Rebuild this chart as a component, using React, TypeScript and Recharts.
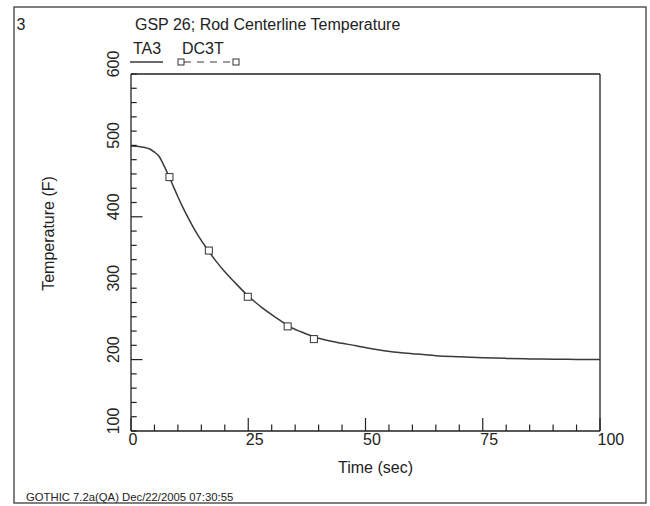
import React from 'react';
import { LineChart, Line, XAxis, YAxis, Legend, ReferenceLine } from 'recharts';

// ---- data ----
const TIME_TA3 = [0, 2, 3, 4, 5, 6, 7, 8, 9, 10, 11, 12, 14, 16, 18, 20, 22, 25, 28, 31, 34, 37, 40, 44, 48, 52, 56, 60, 65, 70, 75, 80, 85, 90, 95, 100];
const TEMP_TA3 = [499, 498, 497, 495, 490.5, 484.5, 472, 458, 443, 428, 414, 401, 377, 357, 339, 323, 309, 289, 272.5, 258.5, 245.5, 237, 230, 224, 219.5, 214.5, 210.8, 208.3, 205.5, 204, 202.7, 201.7, 201, 200.6, 200.2, 200];
const TIME_DC3T = [8.2, 16.6, 24.9, 33.4, 39.0];
const TEMP_DC3T = [455.6, 352.7, 288, 246.5, 228.7];

const X_TICKS = [0, 5, 10, 15, 20, 25, 30, 35, 40, 45, 50, 55, 60, 65, 70, 75, 80, 85, 90, 95, 100];
const X_LABELS = [0, 25, 50, 75, 100];
const Y_TICKS = [100, 120, 140, 160, 180, 200, 220, 240, 260, 280, 300, 320, 340, 360, 380, 400, 420, 440, 460, 480, 500, 520, 540, 560, 580, 600];
const Y_LABELS = [100, 200, 300, 400, 500, 600];
const Y_LONG = [200, 400];

const TITLE = 'GSP 26; Rod Centerline Temperature';
const PLOT_NO = '3';
const FOOTER = 'GOTHIC 7.2a(QA) Dec/22/2005 07:30:55';
const X_TITLE = 'Time (sec)';
const Y_TITLE = 'Temperature (F)';
const SERIES_NAMES = ['TA3', 'DC3T'];

const ta3 = TIME_TA3.map((t, i) => ({ t, v: TEMP_TA3[i] }));
const dc3t = TIME_DC3T.map((t, i) => ({ t, v: TEMP_DC3T[i] }));

const FONT = '"Liberation Sans", Arial, Helvetica, sans-serif';
const INK = '#222';
const CURVE = '#3a3a3a';

const XTick = (props: any) => {
  const { x, y, payload } = props;
  const v = payload.value;
  const major = X_LABELS.includes(v);
  return (
    <g>
      <line x1={x} y1={y} x2={x} y2={y - (major ? 13 : 6.5)} stroke={INK} strokeWidth={1.2} />
      {major && (
        <text x={x - 2.5} y={y + 14} textAnchor="start" fontSize={16} fill={INK} fontFamily={FONT}>
          {v}
        </text>
      )}
    </g>
  );
};

const YTick = (props: any) => {
  const { x, y, payload } = props;
  const v = payload.value;
  const long = Y_LONG.includes(v);
  const lab = Y_LABELS.includes(v);
  const lx = x - 12;
  const ly = y - 10;
  return (
    <g>
      <line x1={x} y1={y} x2={x + (long ? 11.5 : 5.7)} y2={y} stroke={INK} strokeWidth={1.2} />
      {lab && (
        <text x={lx} y={ly} textAnchor="middle" fontSize={16} fill={INK} fontFamily={FONT}
          transform={`rotate(-90 ${lx} ${ly})`}>
          {v}
        </text>
      )}
    </g>
  );
};

const SquareDot = (props: any) => {
  const { cx, cy } = props;
  if (cx == null || cy == null) return null;
  return <rect x={cx - 3.5} y={cy - 3.5} width={7} height={7} fill="#fff" stroke="#333" strokeWidth={1} />;
};

const LegendContent = (props: any) => {
  const payload = [...(props.payload || [])].sort(
    (a: any, b: any) => SERIES_NAMES.indexOf(a.value) - SERIES_NAMES.indexOf(b.value)
  );
  return (
    <div style={{ position: 'relative', width: 0, height: 0 }}>
      <svg width={140} height={34} style={{ position: 'absolute', left: 0, top: 0, overflow: 'visible' }}>
        {payload.map((e: any, i: number) => {
          const name = e.value;
          if (i === 0) {
            return (
              <g key={name}>
                <text x={5} y={16} fontSize={16} fill={INK} fontFamily={FONT}>{name}</text>
                <line x1={2} y1={24} x2={35} y2={24} stroke={CURVE} strokeWidth={1.3} />
              </g>
            );
          }
          const ox = 52;
          return (
            <g key={name}>
              <text x={ox + 2} y={16} fontSize={16} fill={INK} fontFamily={FONT}>{name}</text>
              <line x1={ox + 4} y1={24} x2={ox + 55} y2={24} stroke={CURVE} strokeWidth={1.2} strokeDasharray="7 6" />
              <rect x={ox - 2} y={21} width={6} height={6} fill="#fff" stroke="#333" strokeWidth={1} />
              <rect x={ox + 53} y={21} width={6} height={6} fill="#fff" stroke="#333" strokeWidth={1} />
            </g>
          );
        })}
      </svg>
    </div>
  );
};

const YLabel = (props: any) => {
  const vb = props.viewBox || {};
  const lx = vb.x - 17;
  const ly = vb.y + vb.height / 2 - 19;
  return (
    <text x={lx} y={ly} textAnchor="middle" fontSize={16} fill={INK} fontFamily={FONT}
      transform={`rotate(-90 ${lx} ${ly})`}>
      {Y_TITLE}
    </text>
  );
};

const XLabel = (props: any) => {
  const vb = props.viewBox || {};
  return (
    <text x={vb.x + vb.width / 2 + 10} y={vb.y + 42} textAnchor="middle" fontSize={16} fill={INK} fontFamily={FONT}>
      {X_TITLE}
    </text>
  );
};

export default function App() {
  return (
    <div style={{ position: 'fixed', left: 0, top: 0, width: 650, height: 506, background: '#fff', fontFamily: FONT }}>
      <LineChart width={650} height={506} margin={{ top: 74, right: 50, bottom: 45, left: 71 }}>
        <XAxis
          dataKey="t"
          type="number"
          domain={[0, 100]}
          ticks={X_TICKS}
          interval={0}
          tick={<XTick />}
          tickLine={false}
          tickSize={0}
          tickMargin={0}
          height={30}
          axisLine={{ stroke: INK, strokeWidth: 1.3 }}
          allowDataOverflow
          label={<XLabel />}
        />
        <YAxis
          type="number"
          domain={[100, 600]}
          ticks={Y_TICKS}
          interval={0}
          tick={<YTick />}
          tickLine={false}
          tickSize={0}
          tickMargin={0}
          width={60}
          axisLine={{ stroke: INK, strokeWidth: 1.3 }}
          allowDataOverflow
          label={<YLabel />}
        />
        <ReferenceLine y={600} stroke={INK} strokeWidth={1.3} />
        <ReferenceLine x={100} stroke={INK} strokeWidth={1.3} />
        <Legend
          content={<LegendContent />}
          verticalAlign="top"
          align="left"
          wrapperStyle={{ position: 'absolute', left: 128, top: 38, width: 140, height: 0 }}
        />
        <Line
          name={SERIES_NAMES[0]}
          data={ta3}
          dataKey="v"
          type="monotone"
          stroke={CURVE}
          strokeWidth={1.5}
          dot={false}
          activeDot={false}
          isAnimationActive={false}
        />
        <Line
          name={SERIES_NAMES[1]}
          data={dc3t}
          dataKey="v"
          type="linear"
          stroke="none"
          dot={<SquareDot />}
          activeDot={false}
          isAnimationActive={false}
        />
      </LineChart>
      <svg width={650} height={506} style={{ position: 'absolute', left: 0, top: 0, pointerEvents: 'none' }}>
        <rect x={14} y={7} width={632} height={496} fill="none" stroke="#555" strokeWidth={1.5} />
        <text x={16.5} y={30} fontSize={16} fill={INK} fontFamily={FONT}>{PLOT_NO}</text>
        <text x={135} y={30} fontSize={16} fill={INK} fontFamily={FONT}>{TITLE}</text>
        <text x={26} y={501} fontSize={11.3} fill={INK} fontFamily={FONT}>{FOOTER}</text>
      </svg>
    </div>
  );
}
